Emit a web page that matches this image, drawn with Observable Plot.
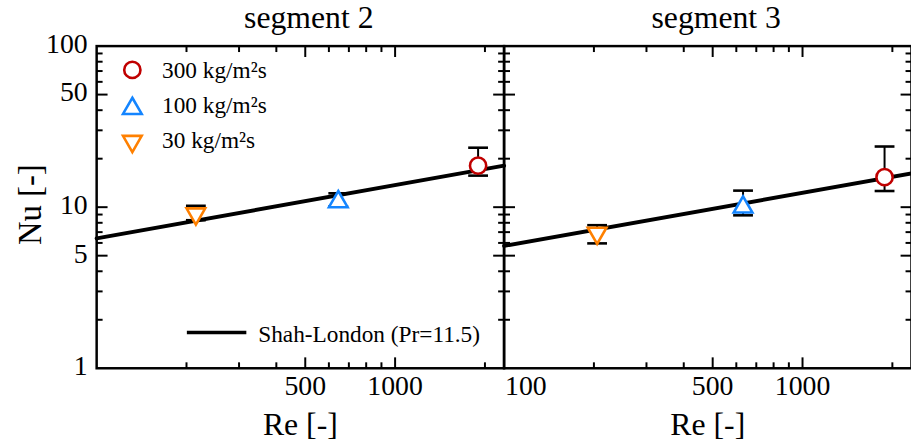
<!DOCTYPE html>
<html><head><meta charset="utf-8">
<script src="https://cdn.jsdelivr.net/npm/d3@7"></script>
<script src="https://cdn.jsdelivr.net/npm/@observablehq/plot@0.6"></script>
<style>body{margin:0;background:#fff}#c{width:911px;height:445px;overflow:hidden}
#c svg, #c svg text{font-family:"Liberation Serif","Times New Roman",Times,serif !important}</style>
</head><body><div id="c"></div>
<script>
const segments = ["segment 2", "segment 3"];
const seriesLabels = ["300 kg/m²s", "100 kg/m²s", "30 kg/m²s"];
const seriesColors = ["#c00000", "#1485ff", "#ff8000"];
// values per series: [segment 2, segment 3]
const re300 = [1897, 1883], nu300 = [18.1, 15.35], lo300 = [15.7, 12.6], hi300 = [23.4, 23.8];
const re100 = [645, 632], nu100 = [10.8, 10.0], lo100 = [10.1, 8.9], hi100 = [12.2, 12.67];
const re30 = [215, 205], nu30 = [9.1, 6.9], lo30 = [8.3, 5.96], hi30 = [10.2, 7.73];
// Shah-London correlation line endpoints
const slRe = [100, 2318];
const slNuSeg2 = [6.4, 18.1];
const slNuSeg3 = [5.75, 16.2];
const slLabel = "Shah-London (Pr=11.5)";
// ticks
const xMajor = [500, 1000];
const xMinor = [200, 300, 400, 600, 700, 800, 900, 2000];
const yMajor = [5, 10, 50];
const yMinor = [2, 3, 4, 6, 7, 8, 9, 20, 30, 40, 60, 70, 80, 90];
const yLabels = [1, 5, 10, 50, 100];
const xLabels = [500, 1000];
const xDomain = [100, 2318];
const yDomain = [1, 100];

const FONT = "Liberation Serif";
const seg = (x1, y1, x2, y2) => ({draw(c) { c.moveTo(x1, y1); c.lineTo(x2, y2); }});
const cross = (vals) => segments.flatMap(s => vals.map(v => ({seg: s, v})));
const MAJ = 11, MIN = 6;

const marks = [];
// ticks (inward, on all four sides)
for (const [vals, L] of [[xMajor, MAJ], [xMinor, MIN]]) {
  marks.push(Plot.dot(cross(vals), {fx: "seg", x: "v", y: () => yDomain[0], symbol: seg(0, 0, 0, -L), stroke: "black", strokeWidth: 2, fill: "none"}));
  marks.push(Plot.dot(cross(vals), {fx: "seg", x: "v", y: () => yDomain[1], symbol: seg(0, 0, 0, L), stroke: "black", strokeWidth: 2, fill: "none"}));
}
for (const [vals, L] of [[yMajor, MAJ], [yMinor, MIN]]) {
  marks.push(Plot.dot(cross(vals), {fx: "seg", y: "v", x: () => xDomain[0], symbol: seg(0, 0, L, 0), stroke: "black", strokeWidth: 2, fill: "none"}));
  marks.push(Plot.dot(cross(vals), {fx: "seg", y: "v", x: () => xDomain[1], symbol: seg(0, 0, -L, 0), stroke: "black", strokeWidth: 2, fill: "none"}));
}
marks.push(Plot.frame({stroke: "black", strokeWidth: 2.5}));

// Shah-London lines
const slRows = [
  ...slRe.map((r, i) => ({seg: segments[0], re: r, nu: slNuSeg2[i]})),
  ...slRe.map((r, i) => ({seg: segments[1], re: r, nu: slNuSeg3[i]}))
];
marks.push(Plot.line(slRows, {fx: "seg", x: "re", y: "nu", z: "seg", stroke: "black", strokeWidth: 4}));

// data series
const series = [
  {re: re300, nu: nu300, lo: lo300, hi: hi300, symbol: "circle", rotate: 0, r: 8.2, dy: 24},
  {re: re100, nu: nu100, lo: lo100, hi: hi100, symbol: "triangle", rotate: 0, r: 7, dy: 63},
  {re: re30, nu: nu30, lo: lo30, hi: hi30, symbol: "triangle", rotate: 180, r: 7, dy: 96}
];
const textDy = [32.3, 67.3, 103.3];
series.forEach((s, k) => {
  const rows = segments.map((sg, i) => ({seg: sg, re: s.re[i], nu: s.nu[i], lo: s.lo[i], hi: s.hi[i]}));
  marks.push(Plot.ruleX(rows, {fx: "seg", x: "re", y1: "lo", y2: "hi", stroke: "black", strokeWidth: 2}));
  marks.push(Plot.dot(rows, {fx: "seg", x: "re", y: "lo", symbol: seg(-10, 0, 10, 0), stroke: "black", strokeWidth: 2.6, fill: "none"}));
  marks.push(Plot.dot(rows, {fx: "seg", x: "re", y: "hi", symbol: seg(-10, 0, 10, 0), stroke: "black", strokeWidth: 2.6, fill: "none"}));
  marks.push(Plot.dot(rows, {fx: "seg", x: "re", y: "nu", symbol: s.symbol, r: s.r, rotate: s.rotate, stroke: seriesColors[k], strokeWidth: 2.6, fill: "white"}));
  // legend entry
  marks.push(Plot.dot([{seg: segments[0]}], {fx: "seg", frameAnchor: "top-left", dx: 36, dy: s.dy, symbol: s.symbol, r: s.r, rotate: s.rotate, stroke: seriesColors[k], strokeWidth: 2.6, fill: "white"}));
  marks.push(Plot.text([{seg: segments[0]}], {fx: "seg", frameAnchor: "top-left", dx: 66, dy: textDy[k], text: () => seriesLabels[k], textAnchor: "start", lineAnchor: "bottom", fontSize: 23.5, fontFamily: FONT, fill: "black"}));
});

// Shah-London legend
marks.push(Plot.dot([{seg: segments[0]}], {fx: "seg", frameAnchor: "bottom-left", dx: 91, dy: -36, symbol: seg(0, 0, 60, 0), stroke: "black", strokeWidth: 3.5, fill: "none"}));
marks.push(Plot.text([{seg: segments[0]}], {fx: "seg", frameAnchor: "bottom-left", dx: 163, dy: -26, text: () => slLabel, textAnchor: "start", lineAnchor: "bottom", fontSize: 23.5, fontFamily: FONT, fill: "black"}));

// tick labels
marks.push(Plot.text(yLabels.map(v => ({seg: segments[0], v})), {fx: "seg", x: () => xDomain[0], y: "v", text: d => String(d.v), textAnchor: "end", lineAnchor: "middle", dx: -9, dy: -2, fontSize: 28, fontFamily: FONT, fill: "black"}));
marks.push(Plot.text(cross(xLabels), {fx: "seg", x: "v", y: () => yDomain[0], text: d => String(d.v), lineAnchor: "bottom", dy: 27, fontSize: 28, fontFamily: FONT, fill: "black"}));
marks.push(Plot.text([{seg: segments[1], v: xDomain[0]}], {fx: "seg", x: "v", y: () => yDomain[0], text: d => String(d.v), textAnchor: "start", lineAnchor: "bottom", dx: 1, dy: 27, fontSize: 28, fontFamily: FONT, fill: "black"}));

// axis titles and facet titles
marks.push(Plot.text(segments.map(s => ({seg: s})), {fx: "seg", frameAnchor: "bottom", text: () => "Re [-]", lineAnchor: "bottom", dy: 67, fontSize: 32, fontFamily: FONT, fill: "black"}));
marks.push(Plot.text(segments.map(s => ({seg: s})), {fx: "seg", frameAnchor: "top", text: "seg", lineAnchor: "bottom", dy: -18, dx: 8.5, fontSize: 32, fontFamily: FONT, fill: "black"}));
marks.push(Plot.text([{seg: segments[0]}], {fx: "seg", frameAnchor: "left", text: () => "Nu [-]", rotate: -90, textAnchor: "middle", lineAnchor: "bottom", dx: -56, dy: -2.5, fontSize: 33, fontFamily: FONT, fill: "black"}));

const chart = Plot.plot({
  width: 919,
  height: 445,
  marginLeft: 97,
  marginRight: 0,
  marginTop: 46,
  marginBottom: 74,
  style: {fontFamily: "'Liberation Serif', 'Times New Roman', serif", background: "#fff", overflow: "visible"},
  fx: {domain: segments, padding: 0, axis: null},
  x: {type: "log", domain: xDomain, axis: null},
  y: {type: "log", domain: yDomain, axis: null},
  marks
});
document.getElementById("c").appendChild(chart);
</script>
</body></html>
